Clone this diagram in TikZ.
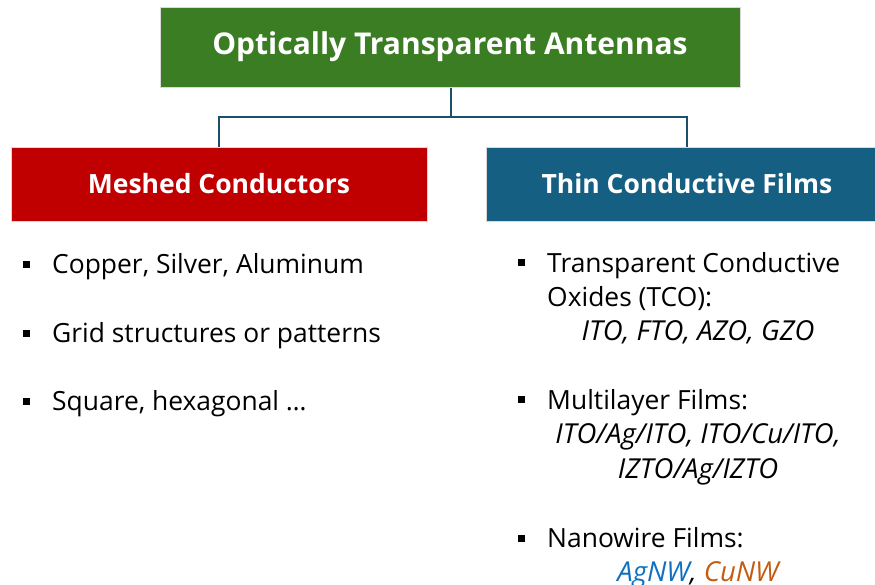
\documentclass[tikz,border=0pt]{standalone}
\usepackage{fontspec}
\setmainfont{Open Sans}
\definecolor{topgreen}{HTML}{3B7D23}
\definecolor{leftred}{HTML}{C00000}
\definecolor{rightblue}{HTML}{156082}
\definecolor{linkblue}{HTML}{1B4F6B}
\definecolor{agblue}{HTML}{0F70C0}
\definecolor{cuorange}{HTML}{C55A11}
\tikzset{
  headbox/.style={draw=black!15, line width=1pt, inner sep=0pt, text=white,
    font=\fontsize{26.5}{30}\selectfont\bfseries},
  link/.style={draw=linkblue, line width=1.8pt},
  item/.style={anchor=base west, inner sep=0pt, font=\fontsize{26.4}{30}\selectfont},
  sub/.style={anchor=base, inner sep=0pt, font=\fontsize{27.5}{30}\selectfont\itshape},
  bulletmark/.style={fill=black, minimum size=7pt, inner sep=0pt},
}
\begin{document}
\begin{tikzpicture}[x=1pt, y=-1pt]
\useasboundingbox (0,0) rectangle (875,584);

% header boxes
\node[headbox, fill=topgreen, minimum width=580pt, minimum height=80pt,
      font=\fontsize{30}{34}\selectfont\bfseries] (top) at (450,47) {Optically Transparent Antennas};
\node[headbox, fill=leftred, minimum width=416pt, minimum height=74pt] (mesh) at (219,184) {Meshed Conductors};
\node[headbox, fill=rightblue, minimum width=402pt, minimum height=74pt] (thin) at (687,184) {Thin Conductive Films};

% tree connectors
\coordinate (fork) at (451,117);
\draw[link] (top.south -| fork) -- (fork);
\draw[link] (mesh.north) |- (fork) -| (thin.north);

% left list
\node[bulletmark] (b1) at (26,264) {};
\node[item] (t1) at (52,273) {Copper, Silver, Aluminum};
\node[bulletmark] (b2) at (26,333) {};
\node[item] (t2) at (52,342) {Grid structures or patterns};
\node[bulletmark] (b3) at (26,401) {};
\node[item] (t3) at (52,410) {Square, hexagonal \dots};

% right list
\node[bulletmark] (r1) at (521,262) {};
\node[item] (s1) at (547,272) {Transparent Conductive};
\node[item] (s1b) at (547,306) {Oxides (TCO):};
\node[sub] (s1c) at (698,340) {ITO, FTO, AZO, GZO};

\node[bulletmark] (r2) at (521,399) {};
\node[item] (s2) at (547,409) {Multilayer Films:};
\node[sub] (s2b) at (698,443) {ITO/Ag/ITO, ITO/Cu/ITO,};
\node[sub] (s2c) at (698,478) {IZTO/Ag/IZTO};

\node[bulletmark] (r3) at (521,538) {};
\node[item] (s3) at (547,547) {Nanowire Films:};
\node[sub] (s3b) at (698,581) {\textcolor{agblue}{AgNW}, \textcolor{cuorange}{CuNW}};
\end{tikzpicture}
\end{document}
